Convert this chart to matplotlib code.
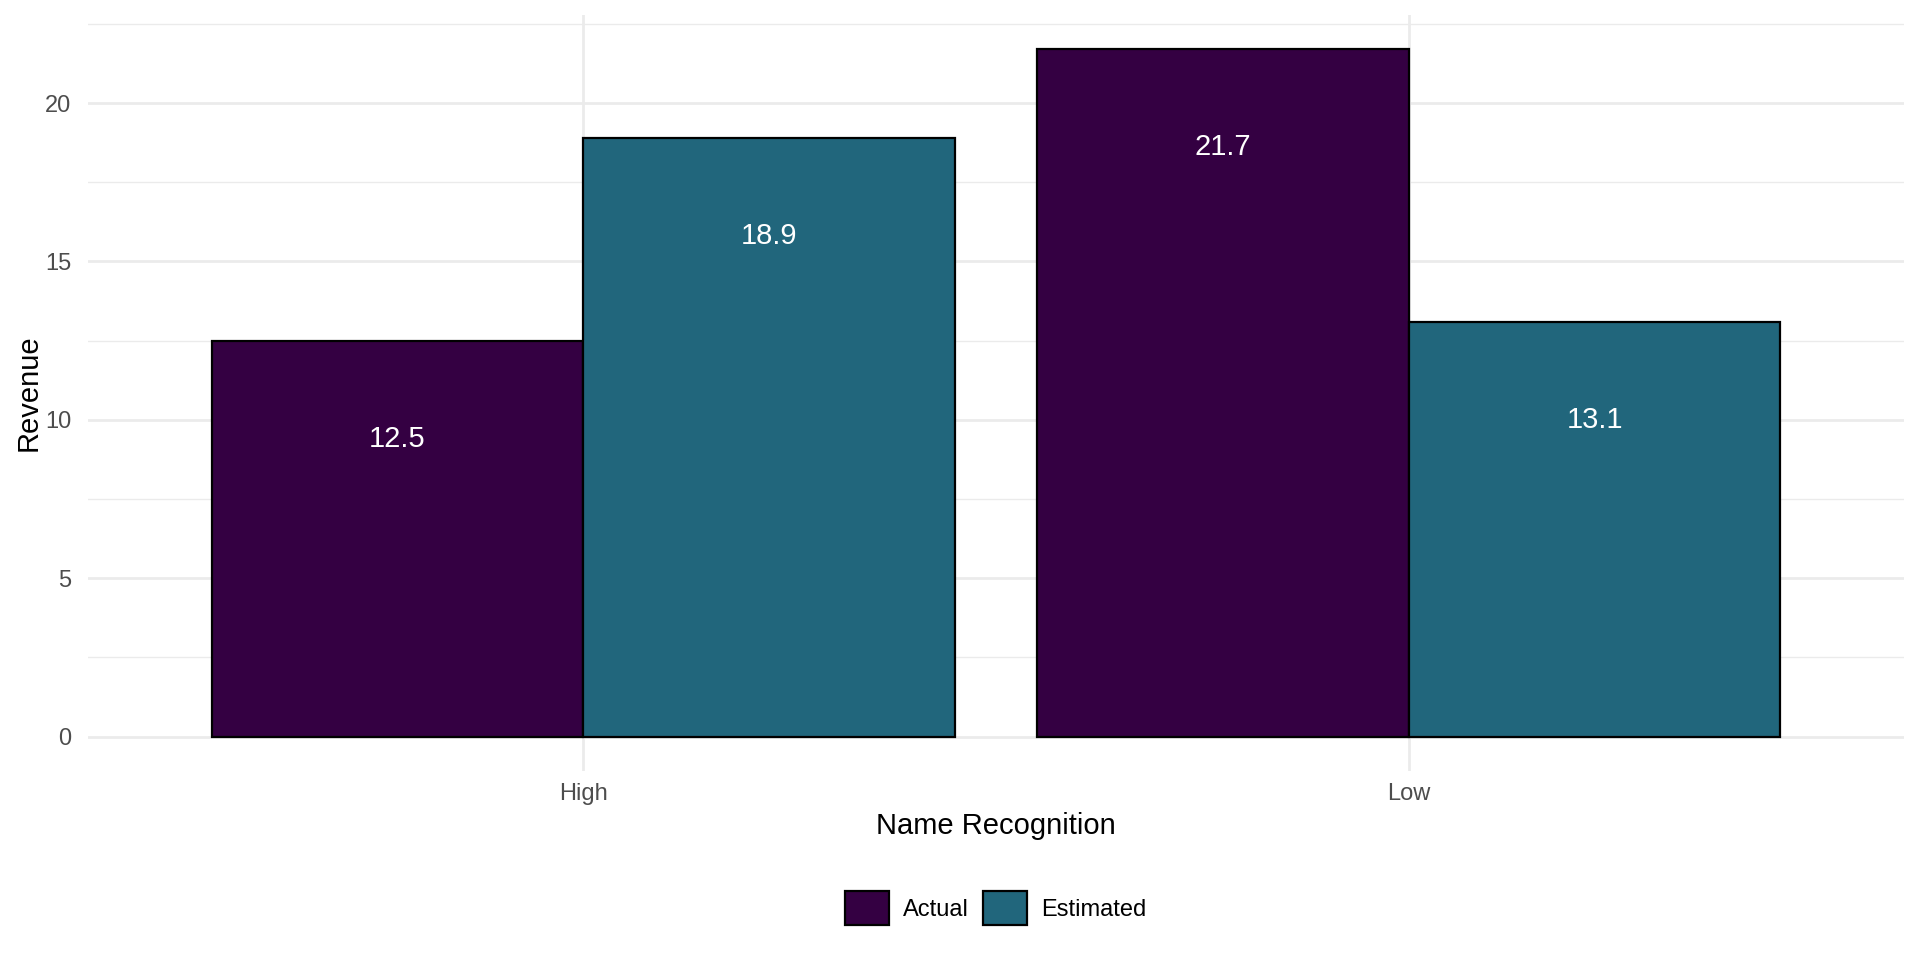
import matplotlib.pyplot as plt
import numpy as np
from matplotlib.patches import Patch

plt.rcParams['font.family'] = ['Liberation Sans', 'DejaVu Sans']

categories = ["High", "Low"]
groups = ["Actual", "Estimated"]
actual = [12.5, 21.7]
estimated = [18.9, 13.1]
colors = ["#340042", "#21667C"]

fig = plt.figure(figsize=(19.2, 9.6), dpi=100)
ax = fig.add_axes([0.0458, 0.197, 0.946, 0.7875])

x = np.arange(1, len(categories) + 1)
w = 0.45
series = [actual, estimated]
for i, vals in enumerate(series):
    pos = x - w / 2 + i * w
    ax.bar(pos, vals, width=w, color=colors[i], edgecolor="black", linewidth=1.6, zorder=3)
    for p, v in zip(pos, vals):
        ax.text(p, v - 3.1, f"{v}", color="white", fontsize=21, ha="center", va="center", zorder=4)

ax.set_xlim(0.4, 2.6)
ax.set_ylim(-1.085, 22.785)
ax.set_yticks([0, 5, 10, 15, 20])
ax.set_yticks([2.5, 7.5, 12.5, 17.5, 22.5], minor=True)
ax.set_xticks(x)
ax.set_xticklabels(categories)
ax.grid(True, which="major", color="#EBEBEB", linewidth=2.0, zorder=0)
ax.grid(True, which="minor", axis="y", color="#EBEBEB", linewidth=1.0, zorder=0)
for s in ax.spines.values():
    s.set_visible(False)
ax.tick_params(which="both", length=0, labelsize=17, labelcolor="#4D4D4D")
ax.tick_params(axis="x", pad=8.5)
ax.tick_params(axis="y", pad=12)

ax.set_xlabel("Name Recognition", fontsize=21, labelpad=5)
ax.set_ylabel("Revenue", fontsize=21, labelpad=2)

handles = [Patch(facecolor=colors[i], edgecolor="black", linewidth=1.6, label=groups[i]) for i in range(2)]
fig.legend(handles=handles, loc="center", bbox_to_anchor=(0.5185, 0.054), ncol=2, frameon=False,
           fontsize=17, handlelength=1.85, handleheight=1.85, columnspacing=0.6, handletextpad=0.6)

fig.savefig("out.png", dpi=100, facecolor="white")
